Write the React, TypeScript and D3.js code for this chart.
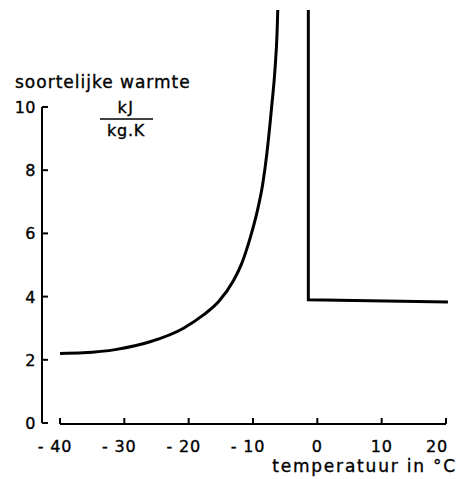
import React from 'react'
import * as d3 from 'd3'

// ice branch: specific heat rises sharply towards the melting point
const iceTemps = [-40, -36.4, -31.2, -26, -20.8, -17.7, -15.3, -13.05, -11.75, -10.45, -9.4, -8.5, -7.86, -7.08, -6.56, -6.25, -6.15]
const iceHeat = [2.2, 2.22, 2.33, 2.57, 3.0, 3.42, 3.85, 4.5, 5.05, 5.85, 6.65, 7.55, 8.5, 10.05, 11.25, 12.4, 13.07]

// water branch: vertical drop then flat
const waterTemps = [-1.4, -1.4, 20.3]
const waterHeat = [13.07, 3.9, 3.83]

const xTicks = [-40, -30, -20, -10, 0, 10, 20]
const yTicks = [0, 2, 4, 6, 8, 10]

const yLabel = 'soortelijke warmte'
const xLabel = 'temperatuur in °C'
const unitTop = 'kJ'
const unitBottom = 'kg.K'

const App = () => {
  const width = 461
  const height = 479
  const font = '"DejaVu Sans", sans-serif'

  const x = d3.scaleLinear().domain([-40, 20]).range([60, 446])
  const y = d3.scaleLinear().domain([0, 10]).range([423, 107])

  const icePath = d3
    .line<[number, number]>()
    .x((d) => x(d[0]))
    .y((d) => y(d[1]))
    .curve(d3.curveMonotoneX)(iceTemps.map((t, i) => [t, iceHeat[i]]))
  const waterPath = d3
    .line<[number, number]>()
    .x((d) => x(d[0]))
    .y((d) => y(d[1]))(waterTemps.map((t, i) => [t, waterHeat[i]]))

  const axisX = 42
  const txt = { fontFamily: font, fill: '#000', stroke: '#000', strokeWidth: 0.35 }

  return (
    <svg width={width} height={height} style={{ position: 'absolute', left: 0, top: 0, background: '#fff' }}>
      {/* y axis */}
      <line x1={axisX} x2={axisX} y1={y(10)} y2={y(0)} stroke="#000" strokeWidth={2} />
      {yTicks.map((t) => (
        <g key={t}>
          <line x1={axisX} x2={axisX + 6} y1={y(t)} y2={y(t)} stroke="#000" strokeWidth={2} />
          <text x={axisX - 6} y={y(t) + 6} textAnchor="end" fontSize={16} letterSpacing={0.5} {...txt}>
            {t}
          </text>
        </g>
      ))}

      {/* x axis */}
      <line x1={x(-40)} x2={x(20)} y1={y(0) + 1} y2={y(0) + 1} stroke="#000" strokeWidth={2} />
      {xTicks.map((t) => (
        <g key={t}>
          <line x1={x(t)} x2={x(t)} y1={y(0) + 1} y2={y(0) - 5} stroke="#000" strokeWidth={2} />
          <text
            x={t === 20 ? x(t) - 9 : t < 0 ? x(t) - 5 : x(t)}
            y={452}
            textAnchor="middle"
            fontSize={16}
            letterSpacing={0.8}
            {...txt}
          >
            {t < 0 ? '- ' + Math.abs(t) : t}
          </text>
        </g>
      ))}

      {/* curves */}
      <path d={icePath ?? ''} fill="none" stroke="#000" strokeWidth={3} />
      <path d={waterPath ?? ''} fill="none" stroke="#000" strokeWidth={3} />

      {/* labels */}
      <text x={15} y={88} fontSize={17} letterSpacing={1} {...txt}>
        {yLabel}
      </text>
      <text x={126} y={113} textAnchor="middle" fontSize={16} letterSpacing={1.5} {...txt}>
        {unitTop}
      </text>
      <line x1={100} x2={153} y1={119} y2={119} stroke="#000" strokeWidth={1.5} />
      <text x={126} y={136} textAnchor="middle" fontSize={16} letterSpacing={0.8} {...txt}>
        {unitBottom}
      </text>
      <text x={457} y={472} textAnchor="end" fontSize={17} letterSpacing={1.8} {...txt}>
        {xLabel}
      </text>
    </svg>
  )
}

export default App
